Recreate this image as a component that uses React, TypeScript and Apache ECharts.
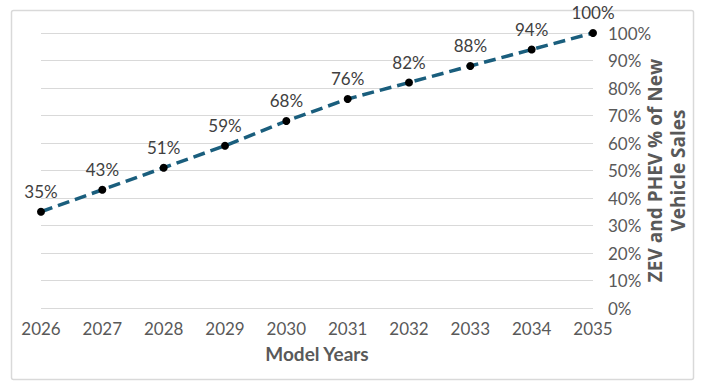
import React, { useEffect, useRef } from "react";
import * as echarts from "echarts";

const years = ["2026", "2027", "2028", "2029", "2030", "2031", "2032", "2033", "2034", "2035"];
const shares = [35, 43, 51, 59, 68, 76, 82, 88, 94, 100];
const xTitle = "Model Years";
const yTitle = "ZEV and PHEV % of New\nVehicle Sales";

export default function App() {
  const ref = useRef<HTMLDivElement>(null);
  useEffect(() => {
    if (!ref.current) return;
    const chart = echarts.init(ref.current, undefined, { renderer: "svg" });
    const font = "Lato, 'Noto Sans', sans-serif";
    chart.setOption({
      animation: false,
      backgroundColor: "#ffffff",
      textStyle: { fontFamily: font },
      graphic: [
        {
          type: "rect",
          shape: { x: 11.5, y: 10.5, width: 682, height: 369, r: 2 },
          style: { fill: "none", stroke: "#d9d9d9", lineWidth: 1.5 },
          silent: true,
        },
      ],
      grid: {
        left: 41,
        right: 108,
        top: 33,
        bottom: 79,
        containLabel: false,
        outerBoundsMode: "none",
      },
      xAxis: {
        type: "category",
        data: years,
        boundaryGap: false,
        axisLine: { show: false },
        axisTick: { show: false },
        axisLabel: { color: "#595959", fontSize: 17, margin: 12, fontFamily: font },
        name: xTitle,
        nameLocation: "middle",
        nameGap: 36,
        nameMoveOverlap: false,
        nameTextStyle: { color: "#595959", fontSize: 19, fontWeight: "bold", fontFamily: font },
      },
      yAxis: {
        type: "value",
        position: "right",
        min: 0,
        max: 100,
        interval: 10,
        axisLine: { show: false },
        axisTick: { show: false },
        splitLine: { lineStyle: { color: "#d9d9d9", width: 1 } },
        axisLabel: {
          color: "#595959",
          fontSize: 17,
          margin: 15,
          align: "left",
          formatter: "{value}%",
          fontFamily: font,
        },
        name: yTitle,
        nameLocation: "middle",
        nameRotate: 90,
        nameGap: 50,
        nameMoveOverlap: false,
        nameTextStyle: {
          color: "#595959",
          fontSize: 19,
          fontWeight: "bold",
          lineHeight: 23,
          align: "center",
          fontFamily: "'Open Sans', Lato, sans-serif",
        },
      },
      series: [
        {
          type: "line",
          data: shares,
          symbol: "circle",
          symbolSize: 8,
          itemStyle: { color: "#000000" },
          lineStyle: { color: "#1a5e7d", width: 3.5, type: [12, 6] },
          label: {
            show: true,
            position: "top",
            distance: 8,
            formatter: "{c}%",
            color: "#404040",
            fontSize: 17,
            fontFamily: font,
          },
          z: 3,
        },
      ],
    });
    return () => chart.dispose();
  }, []);
  return (
    <div
      ref={ref}
      style={{ position: "fixed", left: 0, top: 0, width: 701, height: 387 }}
    />
  );
}
